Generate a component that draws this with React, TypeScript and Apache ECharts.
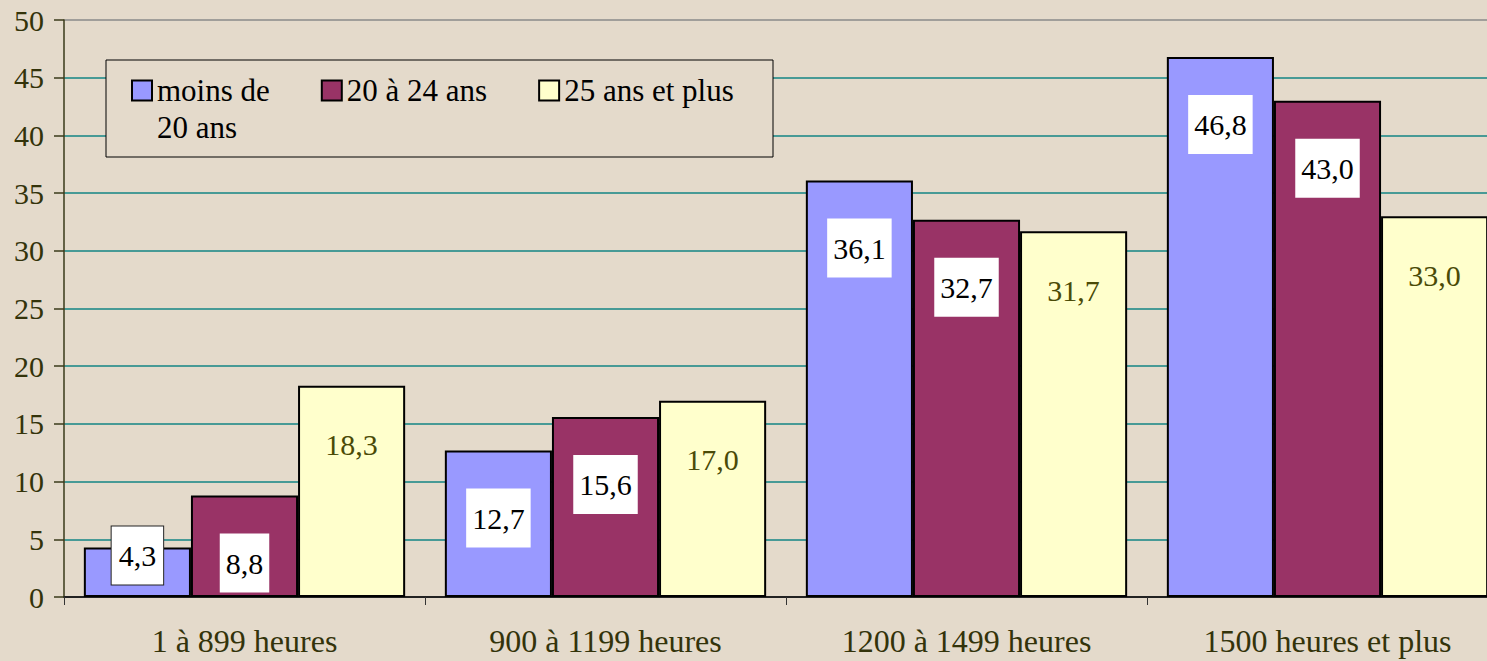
import React, { useEffect, useRef } from "react";
import * as echarts from "echarts";

const categories = ["1 à 899 heures", "900 à 1199 heures", "1200 à 1499 heures", "1500 heures et plus"];
const seriesNames = ["moins de 20 ans", "20 à 24 ans", "25 ans et plus"];
const moins20 = [4.3, 12.7, 36.1, 46.8];
const de20a24 = [8.8, 15.6, 32.7, 43.0];
const plus25 = [18.3, 17.0, 31.7, 33.0];
const yMin = 0;
const yMax = 50;
const yStep = 5;

const FONT = "Liberation Serif";
const BG = "#e4dacb";
const OLIVE = "#33330a";
const colors = ["#9999ff", "#993366", "#ffffcc"];

const fmt = (v: number) => v.toFixed(1).replace(".", ",");

export default function App() {
  const ref = useRef<HTMLDivElement>(null);
  useEffect(() => {
    if (!ref.current) return;
    const chart = echarts.init(ref.current, null, { renderer: "svg" });

    const whiteLabel = {
      show: true,
      position: "insideTop",
      distance: 38,
      formatter: (p: any) => fmt(p.value),
      fontFamily: FONT,
      fontSize: 30,
      color: "#000",
      backgroundColor: "#ffffff",
      padding: [15, 6, 14, 6],
    };

    const nSplit = (yMax - yMin) / yStep + 1;
    const splitColors = Array.from({ length: nSplit }, (_, i) => (i === nSplit - 1 ? "#8a8a8a" : "#138585"));

    const option = {
      animation: false,
      backgroundColor: BG,
      textStyle: { fontFamily: FONT },
      grid: { left: 64, top: 20, bottom: 64, right: 0, containLabel: false },
      legend: {
        left: 131,
        top: 35,
        padding: 0,
        itemGap: 51,
        itemWidth: 20,
        itemHeight: 20,
        icon: "rect",
        z: 4,
        textStyle: { fontFamily: FONT, fontSize: 31, color: "#000", lineHeight: 37 },
        formatter: (name: string) => (name === seriesNames[0] ? "\nmoins de\n20 ans" : name),
        data: seriesNames,
      },
      graphic: [
        {
          type: "rect",
          z: 3,
          shape: { x: 106, y: 60, width: 667, height: 97 },
          style: { fill: BG, stroke: "#000", lineWidth: 1 },
        },
      ],
      xAxis: {
        type: "category",
        data: categories,
        axisLine: { show: true, lineStyle: { color: "#222", width: 2 } },
        axisTick: { show: true, length: 8, lineStyle: { color: "#333", width: 1 } },
        axisLabel: { fontFamily: FONT, fontSize: 32, color: OLIVE, margin: 28, lineHeight: 32 },
      },
      yAxis: {
        type: "value",
        min: yMin,
        max: yMax,
        interval: yStep,
        axisLine: { show: true, lineStyle: { color: "#3a3a1a", width: 1.5 } },
        axisTick: { show: true, length: 10, lineStyle: { color: "#3a3a1a", width: 1.5 } },
        axisLabel: { fontFamily: FONT, fontSize: 30, color: OLIVE, margin: 20 },
        splitLine: { show: true, lineStyle: { color: splitColors, width: 1.5 } },
      },
      series: [
        {
          name: seriesNames[0],
          type: "bar",
          barGap: "0%",
          barCategoryGap: "11%",
          itemStyle: { color: colors[0], borderColor: "#000", borderWidth: 2 },
          label: whiteLabel,
          data: moins20.map((v, i) =>
            i === 0
              ? { value: v, label: { distance: -21, borderColor: "#222", borderWidth: 1, padding: [14, 7, 14, 7] } }
              : v
          ),
        },
        {
          name: seriesNames[1],
          type: "bar",
          barGap: "0%",
          barCategoryGap: "11%",
          itemStyle: { color: colors[1], borderColor: "#000", borderWidth: 2 },
          label: whiteLabel,
          data: de20a24,
        },
        {
          name: seriesNames[2],
          type: "bar",
          barGap: "0%",
          barCategoryGap: "11%",
          itemStyle: { color: colors[2], borderColor: "#000", borderWidth: 2 },
          label: {
            show: true,
            position: "insideTop",
            distance: 44,
            formatter: (p: any) => fmt(p.value),
            fontFamily: FONT,
            fontSize: 30,
            color: "#4a4a06",
          },
          data: plus25,
        },
      ],
    };

    chart.setOption(option as any);
    return () => chart.dispose();
  }, []);

  return (
    <div
      ref={ref}
      style={{ position: "fixed", left: 0, top: 0, width: 1508, height: 661 }}
    />
  );
}
